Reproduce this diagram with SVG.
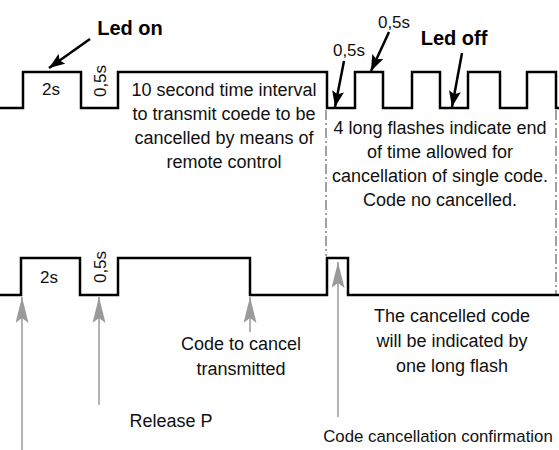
<svg xmlns="http://www.w3.org/2000/svg" width="559" height="450" viewBox="0 0 559 450">
<style>
.t{font-family:"Liberation Sans",Arial,sans-serif;font-size:18px;fill:#111;text-anchor:middle}
.b{font-family:"Liberation Sans",Arial,sans-serif;font-size:20px;font-weight:bold;fill:#000;text-anchor:middle}
.s{font-size:17px}
.wave{fill:none;stroke:#000;stroke-width:2.5;stroke-linejoin:miter}
.dd{fill:none;stroke:#444;stroke-width:1;stroke-dasharray:10,3,2,3}
.ga{fill:none;stroke:#9a9a9a;stroke-width:1.5}
.ba{fill:none;stroke:#000;stroke-width:2.5}
</style>
<defs>
<marker id="gh" viewBox="0 0 26 13" refX="26" refY="6.5" markerWidth="26" markerHeight="13" markerUnits="userSpaceOnUse" orient="auto">
<path d="M0,0 L26,6.5 L0,13 L5,6.5 Z" fill="#9a9a9a"/>
</marker>
<marker id="bh" viewBox="0 0 16 12" refX="16" refY="6" markerWidth="16" markerHeight="12" markerUnits="userSpaceOnUse" orient="auto">
<path d="M0,0 L16,6 L0,12 L3,6 Z" fill="#000"/>
</marker>
</defs>
<g id="top-waveform">
<path class="wave" d="M0,108 H23 V72 H81 V108 H118 V72 H327 V108 H355 V72 H383 V108 H412 V72 H440 V108 H468 V72 H500 V108 H527 V72 H556 V108 H559"/>
</g>
<g id="bottom-waveform">
<path class="wave" d="M0,295 H21 V258 H80 V295 H118 V258 H250 V295 H327 V258 H348 V295 H559"/>
</g>
<g id="guides">
<line class="dd" x1="326" y1="110" x2="326" y2="256"/>
<line class="dd" x1="556" y1="110" x2="556" y2="294"/>
</g>
<g id="connectors">
<line class="ba" x1="90" y1="39" x2="49" y2="68" marker-end="url(#bh)"/>
<line class="ba" x1="344" y1="61" x2="335" y2="107" marker-end="url(#bh)"/>
<line class="ba" x1="389" y1="32" x2="371" y2="71" marker-end="url(#bh)"/>
<line class="ba" x1="462" y1="53" x2="452" y2="107" marker-end="url(#bh)"/>
<line class="ga" x1="22" y1="450" x2="22" y2="297" marker-end="url(#gh)"/>
<line class="ga" x1="99" y1="405" x2="99" y2="297" marker-end="url(#gh)"/>
<line class="ga" x1="250" y1="332" x2="250" y2="297" marker-end="url(#gh)"/>
<line class="ga" x1="338" y1="417" x2="338" y2="262" marker-end="url(#gh)"/>
</g>
<g id="label-led-on"><text class="b" x="130" y="35">Led on</text></g>
<g id="label-led-off"><text class="b" x="454" y="45">Led off</text></g>
<g id="label-top-2s"><text class="t s" x="51" y="95">2s</text></g>
<g id="label-top-05s"><text class="t s" transform="translate(106,81) rotate(-90)">0,5s</text></g>
<g id="label-05s-a"><text class="t s" x="349" y="56">0,5s</text></g>
<g id="label-05s-b"><text class="t s" x="394" y="28">0,5s</text></g>
<g id="label-interval">
<text class="t" x="224" y="96">10 second time interval</text>
<text class="t" x="224" y="120">to transmit coede to be</text>
<text class="t" x="224" y="144">cancelled by means of</text>
<text class="t" x="224" y="168">remote control</text>
</g>
<g id="label-end">
<text class="t" x="440" y="134">4 long flashes indicate end</text>
<text class="t" x="440" y="158">of time allowed for</text>
<text class="t" x="440" y="182">cancellation of single code.</text>
<text class="t" x="440" y="206">Code no cancelled.</text>
</g>
<g id="label-bottom-2s"><text class="t s" x="49" y="283">2s</text></g>
<g id="label-bottom-05s"><text class="t s" transform="translate(106,267) rotate(-90)">0,5s</text></g>
<g id="label-code-transmitted">
<text class="t" x="241" y="350">Code to cancel</text>
<text class="t" x="241" y="375">transmitted</text>
</g>
<g id="label-cancelled">
<text class="t" x="452" y="322">The cancelled code</text>
<text class="t" x="452" y="347">will be indicated by</text>
<text class="t" x="452" y="372">one long flash</text>
</g>
<g id="label-release"><text class="t" x="171" y="427">Release P</text></g>
<g id="label-confirmation"><text class="t" x="438" y="442" style="font-size:16.8px">Code cancellation confirmation</text></g>
</svg>
